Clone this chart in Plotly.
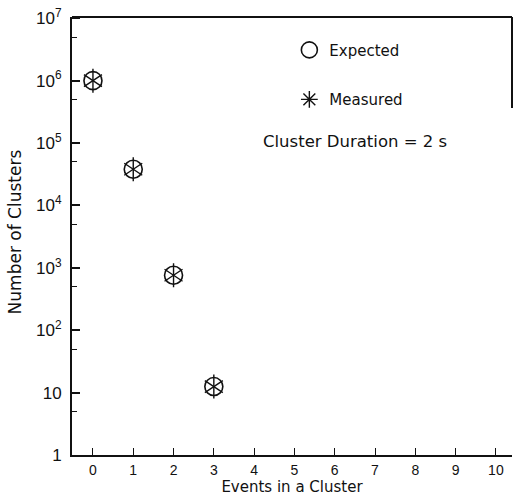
import plotly.graph_objects as go

# ---- data ----
events = [0, 1, 2, 3]
expected = [1.0e6, 3.8e4, 760, 12.5]
measured = [1.0e6, 3.8e4, 760, 12.5]

x_ticks = list(range(0, 11))
y_tickvals = [1, 10, 1e2, 1e3, 1e4, 1e5, 1e6, 1e7]
y_ticktext = ["1", "10", "10<sup>2</sup>", "10<sup>3</sup>", "10<sup>4</sup>",
              "10<sup>5</sup>", "10<sup>6</sup>", "10<sup>7</sup>"]
y_minor = [5, 50, 5e2, 5e3, 5e4, 5e5, 5e6]

FONT = "Liberation Sans"
WIDE = "DejaVu Sans"
BLACK = "#111111"

fig = go.Figure()

fig.add_trace(go.Scatter(
    x=events, y=expected, mode="markers", name="Expected",
    legendgroup="exp",
    marker=dict(symbol="circle-open", size=18, color=BLACK, line=dict(width=1.6, color=BLACK)),
))
fig.add_trace(go.Scatter(
    x=events, y=measured, mode="markers", showlegend=False, legendgroup="meas",
    marker=dict(symbol="y-up-open", size=15, color=BLACK, line=dict(width=1.4, color=BLACK)),
))
fig.add_trace(go.Scatter(
    x=events, y=measured, mode="markers", showlegend=False, legendgroup="meas",
    marker=dict(symbol="y-down-open", size=15, color=BLACK, line=dict(width=1.4, color=BLACK)),
))
# legend entry for the measured series
fig.add_trace(go.Scatter(
    x=[None], y=[None], mode="markers", name="Measured", legendgroup="meas",
    marker=dict(symbol="asterisk-open", size=14, color=BLACK, line=dict(width=1.4, color=BLACK)),
))

fig.update_layout(
    width=513, height=502,
    margin=dict(l=72, r=1, t=17, b=47),
    paper_bgcolor="white", plot_bgcolor="white",
    font=dict(family=FONT, size=16, color=BLACK),
    showlegend=True,
    legend=dict(x=0.494, y=0.962, xanchor="left", yanchor="top",
                bgcolor="rgba(0,0,0,0)", tracegroupgap=27,
                font=dict(family=WIDE, size=15, color=BLACK)),
    xaxis=dict(
        range=[-0.52, 10.4], tickmode="array", tickvals=x_ticks,
        ticktext=[str(v) for v in x_ticks],
        ticks="inside", ticklen=7, tickwidth=1.2, tickcolor=BLACK,
        showline=True, linewidth=2, linecolor=BLACK, mirror=False,
        showgrid=False, zeroline=False,
        tickfont=dict(family=FONT, size=14, color=BLACK),
        ticklabelstandoff=1,
        title=dict(text="Events in a Cluster", font=dict(family=WIDE, size=15, color=BLACK), standoff=0),
    ),
    yaxis=dict(
        type="log", range=[0, 7.02],
        tickmode="array", tickvals=y_tickvals, ticktext=y_ticktext,
        ticks="inside", ticklen=8, tickwidth=1.5, tickcolor=BLACK,
        minor=dict(tickmode="array", tickvals=y_minor, ticks="inside", ticklen=5,
                   tickwidth=1.2, tickcolor=BLACK, showgrid=False),
        showline=True, linewidth=2, linecolor=BLACK,
        showgrid=False, zeroline=False,
        tickfont=dict(family=FONT, size=17, color=BLACK),
        ticklabelstandoff=5,
    ),
    annotations=[
        dict(text="Number of Clusters", xref="paper", yref="paper",
             x=-0.13, y=0.51, textangle=-90, showarrow=False,
             xanchor="center", yanchor="middle",
             font=dict(family=WIDE, size=17, color=BLACK)),
        dict(text="Cluster Duration = 2 s", xref="paper", yref="paper",
             x=0.43, y=0.716, showarrow=False, xanchor="left", yanchor="middle",
             font=dict(family=WIDE, size=16.5, color=BLACK)),
    ],
    shapes=[
        dict(type="line", xref="paper", yref="paper", x0=0, x1=1, y0=1, y1=1,
             line=dict(color=BLACK, width=2)),
        dict(type="line", xref="paper", yref="paper", x0=1, x1=1, y0=1, y1=0.792,
             line=dict(color=BLACK, width=2)),
    ],
)

fig.write_html("out.html")
